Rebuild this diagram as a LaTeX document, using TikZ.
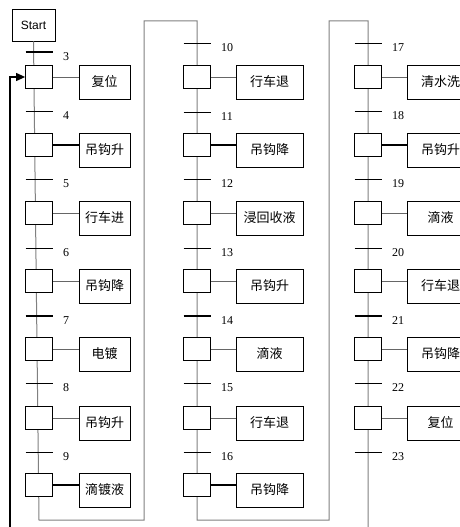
\documentclass[tikz,border=0pt]{standalone}
\usepackage{fontspec}
\setmainfont{Liberation Serif}
\newfontfamily\cjk{Noto Sans CJK SC}
\newfontfamily\sansf{Liberation Sans}
\usetikzlibrary{arrows.meta}
\begin{document}
\begin{tikzpicture}[x=1pt,y=-1pt,
 flow/.style={draw=black!50, line width=1pt},
 stepbox/.style={draw=black, fill=white, line width=0.8pt, minimum width=27pt, minimum height=23pt, inner sep=0pt},
 actbox/.style={draw=black, fill=white, line width=0.8pt, minimum height=34pt, inner sep=0pt, font=\cjk\fontsize{13}{13}\selectfont},
 bar/.style={draw=black, line width=0.8pt},
 thickbar/.style={draw=black, line width=1.6pt},
 lbl/.style={anchor=west, inner sep=0pt, font=\fontsize{12}{12}\selectfont},
 link/.style={draw=black!60, line width=0.8pt},
 thicklink/.style={draw=black, line width=1.4pt}]
\useasboundingbox (0,0) rectangle (460,527);
\clip (0,0) rectangle (460,527);
\node[draw, fill=white, line width=0.8pt, minimum width=43pt, minimum height=32pt, inner sep=0pt, font=\sansf\fontsize{12}{12}\selectfont] (start) at (33.5,25) {Start};
\coordinate (c1) at (39,520);
\coordinate (c2) at (144,520);
\coordinate (c3) at (144,21);
\coordinate (c4) at (197,21);
\coordinate (c5) at (197,520);
\coordinate (c6) at (329,520);
\coordinate (c7) at (329,21);
\coordinate (c8) at (368,21);
\coordinate (c9) at (368,535);
\draw[flow] (start.south) -- (c1) -- (c2) -- (c3) -- (c4) -- (c5) -- (c6) -- (c7) -- (c8) -- (c9);
\foreach \n/\x/\ax/\aw/\y/\t/\ls in {
 3/39/104.5/51/77/复位/link, 4/39/104.5/51/145/吊钩升/thicklink, 5/39/104.5/51/213/行车进/link,
 6/39/104.5/51/281/吊钩降/link, 7/39/104.5/51/349/电镀/link, 8/39/104.5/51/418/吊钩升/link,
 9/39/104.5/51/485/滴镀液/thicklink,
 10/197/269.5/67/77/行车退/link, 11/197/269.5/67/145/吊钩降/thicklink, 12/197/269.5/67/213/浸回收液/link,
 13/197/269.5/67/281/吊钩升/link, 14/197/269.5/67/349/滴液/link, 15/197/269.5/67/418/行车退/link,
 16/197/269.5/67/485/吊钩降/thicklink,
 17/368/440.5/67/77/清水洗/link, 18/368/440.5/67/145/吊钩升/thicklink, 19/368/440.5/67/213/滴液/link,
 20/368/440.5/67/281/行车退/link, 21/368/440.5/67/349/吊钩降/link, 22/368/440.5/67/418/复位/link}{
 \node[stepbox] (s\n) at (\x,\y) {};
 \node[actbox, minimum width=\aw] (a\n) at (\ax,\y+5) {\t};
 \draw[\ls] (s\n.east) -- (s\n.east -| a\n.west);
}
\foreach \n/\x/\y/\bs in {
 3/39/52/thickbar, 4/39/111/bar, 5/39/179/bar, 6/39/248/bar, 7/39/316/thickbar, 8/39/383/bar, 9/39/452/bar,
 10/197/43/bar, 11/197/112/bar, 12/197/179/bar, 13/197/248/bar, 14/197/316/thickbar, 15/197/383/bar, 16/197/452/bar,
 17/368/43/bar, 18/368/111/bar, 19/368/179/bar, 20/368/248/bar, 21/368/316/thickbar, 22/368/383/bar, 23/368/452/bar}{
 \coordinate (t\n) at (\x,\y);
 \draw[\bs] ([xshift=-13.5pt]t\n) -- ([xshift=13.5pt]t\n);
 \node[lbl] (l\n) at ([xshift=24pt, yshift=-5pt]t\n) {\n};
}
\coordinate (fb) at (10,535);
\draw[line width=1.2pt, -{Triangle[length=9pt,width=8pt]}] (fb) |- (s3.west);
\end{tikzpicture}
\end{document}
